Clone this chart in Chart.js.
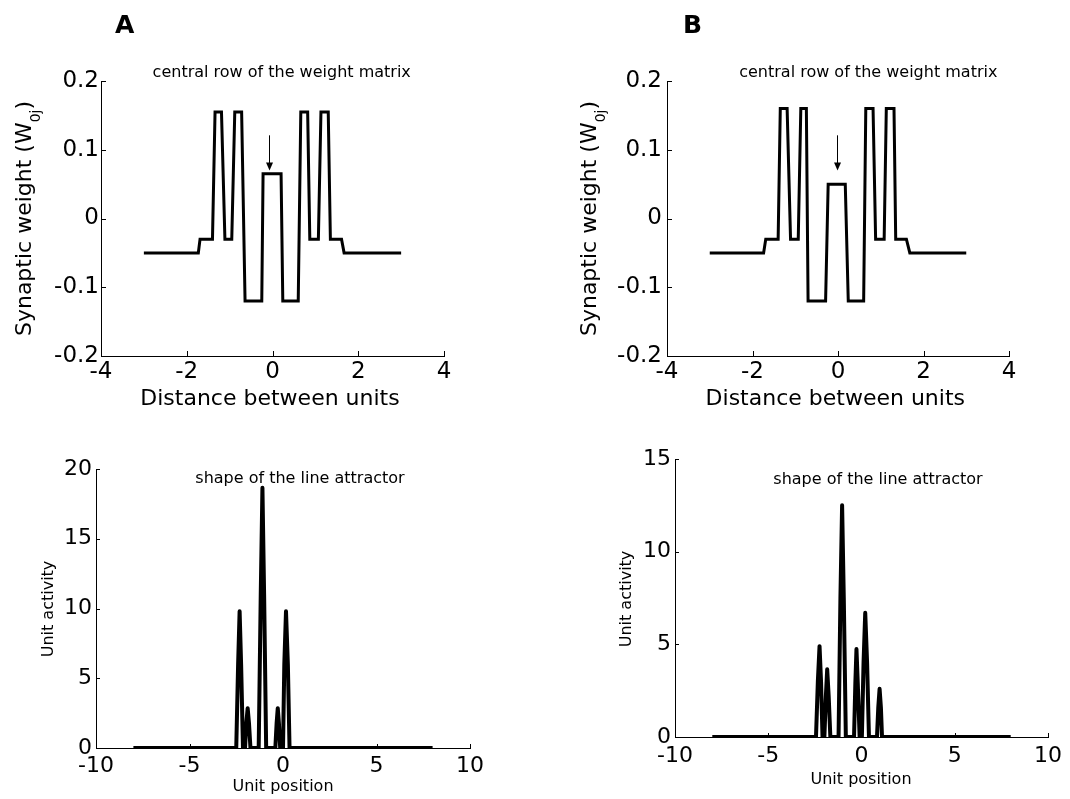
<!DOCTYPE html>
<html>
<head>
<meta charset="utf-8">
<script src="https://cdn.jsdelivr.net/npm/chart.js@4.4.0/dist/chart.umd.min.js"></script>
<style>
  html, body { margin: 0; padding: 0; background: #fff; }
  #page { position: relative; width: 1070px; height: 799px; overflow: hidden; background: #fff; }
  .panel { position: absolute; }
</style>
</head>
<body>
<div id="page">
  <canvas id="weightA" class="panel" width="535" height="420" style="left:0;top:0"></canvas>
  <canvas id="weightB" class="panel" width="535" height="420" style="left:535px;top:0"></canvas>
  <canvas id="shapeA" class="panel" width="535" height="379" style="left:0;top:420px"></canvas>
  <canvas id="shapeB" class="panel" width="535" height="379" style="left:535px;top:420px"></canvas>
</div>
<script>
// central row of the weight matrix (distance between units, weight)
const weightXA = [-3, -1.73, -1.69, -1.40, -1.34, -1.19, -1.11, -0.95, -0.88, -0.72, -0.64, -0.25, -0.22, 0.20, 0.24, 0.60, 0.66, 0.82, 0.87, 1.07, 1.13, 1.30, 1.35, 1.61, 1.67, 3]
const weightYA = [-0.05, -0.05, -0.03, -0.03, 0.155, 0.155, -0.03, -0.03, 0.155, 0.155, -0.12, -0.12, 0.065, 0.065, -0.12, -0.12, 0.155, 0.155, -0.03, -0.03, 0.155, 0.155, -0.03, -0.03, -0.05, -0.05]
const weightXB = [-3, -1.74, -1.69, -1.40, -1.35, -1.19, -1.11, -0.93, -0.87, -0.74, -0.70, -0.29, -0.23, 0.17, 0.24, 0.60, 0.65, 0.82, 0.88, 1.08, 1.13, 1.31, 1.35, 1.60, 1.68, 3]
const weightYB = [-0.05, -0.05, -0.03, -0.03, 0.16, 0.16, -0.03, -0.03, 0.16, 0.16, -0.12, -0.12, 0.05, 0.05, -0.12, -0.12, 0.16, 0.16, -0.03, -0.03, 0.16, 0.16, -0.03, -0.03, -0.05, -0.05]

// shape of the line attractor (unit position, unit activity)
const shapeXA = [-8,
  -2.50, -2.40, -2.32, -2.24, -2.14,
  -2.03, -1.96, -1.89, -1.82, -1.74,
  -1.30, -1.19, -1.10, -1.01, -0.90,
  -0.41, -0.34, -0.28, -0.22, -0.15,
  0.00, 0.07, 0.16, 0.26, 0.35,
  8]
const shapeYA = [0,
  0, 6, 9.8, 6, 0,
  0, 1.8, 2.85, 1.8, 0,
  0, 11, 18.65, 11, 0,
  0, 1.8, 2.85, 1.8, 0,
  0, 6, 9.8, 6, 0,
  0]
const shapeXB = [-8,
  -2.44, -2.34, -2.25, -2.17, -2.09,
  -1.99, -1.91, -1.84, -1.76, -1.67,
  -1.23, -1.13, -1.04, -0.95, -0.84,
  -0.40, -0.33, -0.27, -0.20, -0.10,
  0.02, 0.11, 0.20, 0.30, 0.40,
  0.83, 0.90, 0.97, 1.04, 1.10,
  8]
const shapeYB = [0,
  0, 3, 4.9, 3, 0,
  0, 2.2, 3.65, 2.2, 0,
  0, 7.5, 12.5, 7.5, 0,
  0, 2.9, 4.75, 2.9, 0,
  0, 4, 6.7, 4, 0,
  0, 1.6, 2.6, 1.6, 0,
  0]

// tick labels
const weightTicksX = [-4, -2, 0, 2, 4]
const weightTicksY = [-0.2, -0.1, 0, 0.1, 0.2]
const shapeTicksX = [-10, -5, 0, 5, 10]
const shapeTicksYA = [0, 5, 10, 15, 20]
const shapeTicksYB = [0, 5, 10, 15]

// arrows pointing at the self connection
const arrowA = { x: -0.08, from: 0.121, to: 0.07 }
const arrowB = { x: -0.035, from: 0.121, to: 0.07 }

Chart.defaults.font.family = '"DejaVu Sans", sans-serif'
Chart.defaults.color = '#000'

const FONT = '"DejaVu Sans", sans-serif'

// inward ticks, arrows and all the free text
const decor = {
  id: 'decor',
  afterDraw(chart, args, o) {
    const { ctx } = chart
    const x = chart.scales.x, y = chart.scales.y
    ctx.save()
    ctx.strokeStyle = '#000'
    ctx.fillStyle = '#000'
    ctx.lineWidth = 1
    ctx.beginPath()
    x.ticks.forEach(t => {
      const px = Math.round(x.getPixelForValue(t.value)) + 0.5
      ctx.moveTo(px, y.bottom)
      ctx.lineTo(px, y.bottom - o.tick)
    })
    y.ticks.forEach(t => {
      const py = Math.round(y.getPixelForValue(t.value)) + 0.5
      ctx.moveTo(x.left, py)
      ctx.lineTo(x.left + o.tick, py)
    })
    ctx.stroke()

    if (o.arrow) {
      const ax = Math.round(x.getPixelForValue(o.arrow.x)) + 0.5
      const y0 = y.getPixelForValue(o.arrow.from)
      const y1 = y.getPixelForValue(o.arrow.to)
      ctx.beginPath()
      ctx.moveTo(ax, y0)
      ctx.lineTo(ax, y1 - 7)
      ctx.stroke()
      ctx.beginPath()
      ctx.moveTo(ax - 3.5, y1 - 8)
      ctx.lineTo(ax + 3.5, y1 - 8)
      ctx.lineTo(ax, y1)
      ctx.closePath()
      ctx.fill()
    }

    ctx.textBaseline = 'alphabetic'
    o.texts.forEach(t => {
      ctx.font = t.font
      ctx.textAlign = t.align || 'center'
      ctx.fillText(t.text, t.x, t.y)
    })

    // rotated y title, may carry a subscript
    const yt = o.yTitle
    ctx.translate(yt.x, yt.cy)
    ctx.rotate(-Math.PI / 2)
    ctx.textAlign = 'left'
    let total = 0
    yt.parts.forEach(p => { ctx.font = p.font; total += ctx.measureText(p.text).width })
    let pos = -total / 2
    yt.parts.forEach(p => {
      ctx.font = p.font
      ctx.fillText(p.text, pos, p.dy || 0)
      pos += ctx.measureText(p.text).width
    })
    ctx.restore()
  }
}

function makeChart(id, c) {
  return new Chart(document.getElementById(id), {
    type: 'line',
    data: {
      datasets: [{
        data: c.xs.map((v, i) => ({ x: v, y: c.ys[i] })),
        borderColor: '#000',
        borderWidth: c.lw,
        borderJoinStyle: c.join,
        pointRadius: 0,
        tension: 0,
        fill: false
      }]
    },
    options: {
      responsive: false,
      animation: false,
      events: [],
      layout: { padding: { left: 0, top: c.top, right: c.w - c.right, bottom: 0 } },
      plugins: { legend: { display: false }, tooltip: { enabled: false }, decor: c.decor },
      scales: {
        x: {
          type: 'linear',
          min: c.xTicks[0],
          max: c.xTicks[c.xTicks.length - 1],
          grid: { display: false, drawTicks: false },
          border: { display: true, color: '#000', width: 1 },
          ticks: { font: { size: c.tickSize }, color: '#000', padding: c.xPad, maxRotation: 0, autoSkip: false, callback: v => String(v) },
          afterBuildTicks: s => { s.ticks = c.xTicks.map(v => ({ value: v })) },
          afterFit: s => { s.height = c.h - c.bottom; s.paddingLeft = 0; s.paddingRight = 0 }
        },
        y: {
          type: 'linear',
          min: c.yTicks[0],
          max: c.yTicks[c.yTicks.length - 1],
          grid: { display: false, drawTicks: false },
          border: { display: true, color: '#000', width: 1 },
          ticks: { font: { size: c.tickSize }, color: '#000', padding: c.yPad, autoSkip: false, callback: v => String(v) },
          afterBuildTicks: s => { s.ticks = c.yTicks.map(v => ({ value: v })) },
          afterFit: s => { s.width = c.left; s.paddingTop = 0; s.paddingBottom = 0 }
        }
      }
    },
    plugins: [decor]
  })
}

function weightYTitle(xBase) {
  return {
    x: xBase, cy: 218.5,
    parts: [
      { text: 'Synaptic weight (W', font: '22px ' + FONT },
      { text: '0j', font: '14px ' + FONT, dy: 9 },
      { text: ')', font: '22px ' + FONT }
    ]
  }
}

makeChart('weightA', {
  xs: weightXA, ys: weightYA, lw: 3, join: 'miter',
  w: 535, h: 420, left: 101, top: 81, right: 444, bottom: 356,
  xTicks: weightTicksX, yTicks: weightTicksY, tickSize: 23, xPad: 2, yPad: 2,
  decor: {
    tick: 5, arrow: arrowA,
    texts: [
      { text: 'A', font: 'bold 25px ' + FONT, x: 115, y: 33, align: 'left' },
      { text: 'central row of the weight matrix', font: '16px ' + FONT, x: 281.7, y: 77 },
      { text: 'Distance between units', font: '22px ' + FONT, x: 270, y: 405 }
    ],
    yTitle: weightYTitle(31)
  }
})

makeChart('weightB', {
  xs: weightXB, ys: weightYB, lw: 3, join: 'miter',
  w: 535, h: 420, left: 132, top: 81, right: 474, bottom: 356,
  xTicks: weightTicksX, yTicks: weightTicksY, tickSize: 23, xPad: 2, yPad: 5,
  decor: {
    tick: 5, arrow: arrowB,
    texts: [
      { text: 'B', font: 'bold 25px ' + FONT, x: 148, y: 33, align: 'left' },
      { text: 'central row of the weight matrix', font: '16px ' + FONT, x: 333.3, y: 77 },
      { text: 'Distance between units', font: '22px ' + FONT, x: 300.3, y: 405 }
    ],
    yTitle: weightYTitle(61)
  }
})

makeChart('shapeA', {
  xs: shapeXA, ys: shapeYA, lw: 4, join: 'round',
  w: 535, h: 379, left: 96, top: 49, right: 470, bottom: 328,
  xTicks: shapeTicksX, yTicks: shapeTicksYA, tickSize: 22, xPad: 5, yPad: 4,
  decor: {
    tick: 4,
    texts: [
      { text: 'shape of the line attractor', font: '16px ' + FONT, x: 300, y: 63 },
      { text: 'Unit position', font: '16px ' + FONT, x: 283, y: 371 }
    ],
    yTitle: { x: 52.7, cy: 189, parts: [{ text: 'Unit activity', font: '16px ' + FONT }] }
  }
})

makeChart('shapeB', {
  xs: shapeXB, ys: shapeYB, lw: 4, join: 'round',
  w: 535, h: 379, left: 140, top: 39, right: 513, bottom: 317,
  xTicks: shapeTicksX, yTicks: shapeTicksYB, tickSize: 22, xPad: 6, yPad: 4,
  decor: {
    tick: 4,
    texts: [
      { text: 'shape of the line attractor', font: '16px ' + FONT, x: 343, y: 64 },
      { text: 'Unit position', font: '16px ' + FONT, x: 326, y: 364 }
    ],
    yTitle: { x: 96.3, cy: 179, parts: [{ text: 'Unit activity', font: '16px ' + FONT }] }
  }
})
</script>
</body>
</html>
